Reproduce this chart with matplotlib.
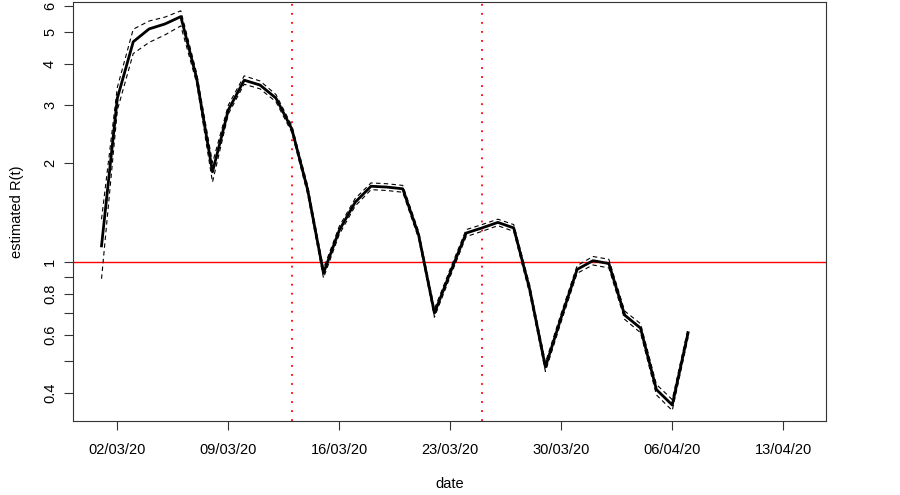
import numpy as np
import pandas as pd
import matplotlib
matplotlib.use("Agg")
import matplotlib.pyplot as plt
import matplotlib.dates as mdates
from matplotlib.ticker import FixedLocator, FixedFormatter, NullLocator

plt.rcParams["font.family"] = ["Liberation Sans", "DejaVu Sans"]

# =============================================================================
# DADOS
# =============================================================================

datas = pd.date_range("2020-03-01", "2020-04-07", freq="D")

r_est = [1.12, 3.15, 4.67, 5.11, 5.29, 5.57, 3.62, 1.88, 2.90, 3.57,
         3.45, 3.15, 2.54, 1.66, 0.926, 1.25, 1.52, 1.70, 1.69, 1.67,
         1.21, 0.70, 0.93, 1.225, 1.27, 1.32, 1.27, 0.83, 0.48, 0.68,
         0.95, 1.01, 0.99, 0.69, 0.63, 0.41, 0.368, 0.61]

r_sup = [1.35, 3.40, 5.10, 5.40, 5.55, 5.80, 3.75, 2.00, 3.00, 3.68,
         3.55, 3.23, 2.60, 1.71, 0.955, 1.285, 1.56, 1.74, 1.73, 1.71,
         1.24, 0.72, 0.955, 1.255, 1.30, 1.35, 1.30, 0.855, 0.495, 0.70,
         0.975, 1.04, 1.02, 0.71, 0.65, 0.425, 0.382, 0.63]

r_inf = [0.89, 2.90, 4.30, 4.65, 4.90, 5.22, 3.50, 1.75, 2.82, 3.47,
         3.36, 3.07, 2.48, 1.61, 0.895, 1.215, 1.48, 1.66, 1.65, 1.63,
         1.18, 0.68, 0.905, 1.195, 1.24, 1.29, 1.24, 0.805, 0.465, 0.66,
         0.925, 0.98, 0.96, 0.67, 0.61, 0.395, 0.354, 0.59]

# datas das intervenções (linhas verticais)
intervencoes = pd.to_datetime(["2020-03-13", "2020-03-25"])

# ticks
xticks = pd.date_range("2020-03-02", "2020-04-13", freq="7D")
yticks = [0.4, 0.5, 0.6, 0.7, 0.8, 0.9, 1, 2, 3, 4, 5, 6]
ylabels = ["0.4", "", "0.6", "", "0.8", "", "1", "2", "3", "4", "5", "6"]

# =============================================================================
# FIGURA
# =============================================================================

fig = plt.figure(figsize=(9, 4.95), dpi=100)
ax = fig.add_axes([0.0811, 0.1495, 0.8367, 0.8465])

ax.plot(datas, r_est, color="black", lw=2, zorder=4)
ax.plot(datas, r_sup, color="black", lw=0.8, ls=(0, (4, 3)), zorder=3)
ax.plot(datas, r_inf, color="black", lw=0.8, ls=(0, (4, 3)), zorder=3)

ax.axhline(1, color="red", lw=1, zorder=2)
for d in intervencoes:
    ax.axvline(d, color="red", lw=1.3, ls=(0, (1, 4)), zorder=2)

ax.set_yscale("log")
ax.set_ylim(0.329, 6.17)
x0 = pd.Timestamp("2020-03-02")
ax.set_xlim(x0 - pd.Timedelta(days=2.80), x0 + pd.Timedelta(days=44.70))

ax.yaxis.set_major_locator(FixedLocator(yticks))
ax.yaxis.set_major_formatter(FixedFormatter(ylabels))
ax.yaxis.set_minor_locator(NullLocator())
ax.set_xticks(xticks)
ax.xaxis.set_major_formatter(mdates.DateFormatter("%d/%m/%y"))

ax.tick_params(axis="both", direction="out", length=6.5, width=0.8,
               labelsize=10.5, color="#333333")
ax.tick_params(axis="x", pad=9)
ax.tick_params(axis="y", pad=5)
for lab in ax.get_yticklabels():
    lab.set_rotation(90)
    lab.set_va("center")

for s in ax.spines.values():
    s.set_linewidth(0.8)
    s.set_color("#333333")

ax.set_xlabel("date", fontsize=10.5, labelpad=15)
ax.set_ylabel("estimated R(t)", fontsize=10.5, labelpad=14)

fig.savefig("out.png", dpi=100)
